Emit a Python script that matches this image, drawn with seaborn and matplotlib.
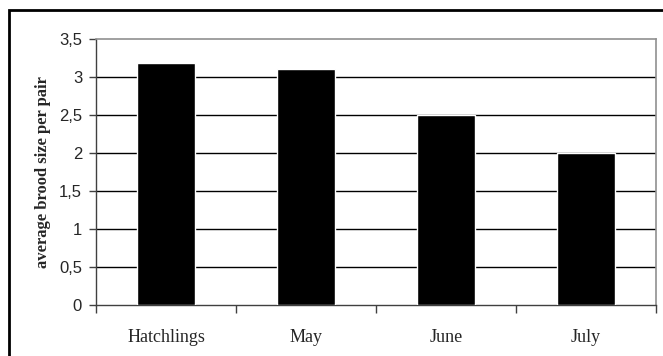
import matplotlib
matplotlib.use("Agg")
import matplotlib.pyplot as plt
import seaborn as sns
import pandas as pd
from matplotlib.patches import Rectangle
from matplotlib.ticker import FuncFormatter, FixedLocator

# data
categories = ["Hatchlings", "May", "June", "July"]
brood_size = [3.18, 3.11, 2.5, 2.0]
y_ticks = [0, 0.5, 1, 1.5, 2, 2.5, 3, 3.5]

df = pd.DataFrame({"period": categories, "brood": brood_size})

sns.set_style("white")

fig = plt.figure(figsize=(6.63, 3.56), dpi=100)
ax = fig.add_axes([96 / 663, 1 - 305 / 356, 560 / 663, 266 / 356])

sns.barplot(data=df, x="period", y="brood", color="black", width=0.41,
            saturation=1, ax=ax, zorder=3)

ax.set_ylim(0, 3.5)
ax.set_xlim(-0.5, 3.5)
ax.set_yticks(y_ticks)
ax.yaxis.set_major_formatter(FuncFormatter(lambda v, p: f"{v:g}".replace(".", ",")))
for y in y_ticks[1:-1]:
    ax.axhline(y, color="black", lw=1, zorder=1)

# y tick labels
for lab in ax.get_yticklabels():
    lab.set_fontfamily("Liberation Sans")
    lab.set_fontsize(12)
ax.tick_params(axis="y", length=5, width=1, color="#404040", pad=5, direction="out", left=True)

# x ticks: labels centred, marks at the category boundaries
ax.tick_params(axis="x", which="major", length=0, pad=17)
ax.xaxis.set_minor_locator(FixedLocator([-0.5, 0.5, 1.5, 2.5, 3.5]))
ax.tick_params(axis="x", which="minor", length=6, width=1, color="#404040", direction="out", bottom=True)
for lab in ax.get_xticklabels():
    lab.set_fontfamily("Liberation Serif")
    lab.set_fontsize(13)

ax.set_xlabel("")
ax.set_ylabel("average brood size per pair", fontfamily="Liberation Serif",
              fontweight="bold", fontsize=12, labelpad=6)

for side in ["left", "bottom"]:
    ax.spines[side].set_color("#404040")
    ax.spines[side].set_linewidth(1)
for side in ["top", "right"]:
    ax.spines[side].set_visible(True)
    ax.spines[side].set_color("#909090")
    ax.spines[side].set_linewidth(1.2)

# outer frame around the figure
fig.patches.append(Rectangle((9 / 663, -0.1), 1.0, 1 - 10 / 356 + 0.1,
                             transform=fig.transFigure, fill=False,
                             edgecolor="black", lw=2))

fig.savefig("out.png", dpi=100)
